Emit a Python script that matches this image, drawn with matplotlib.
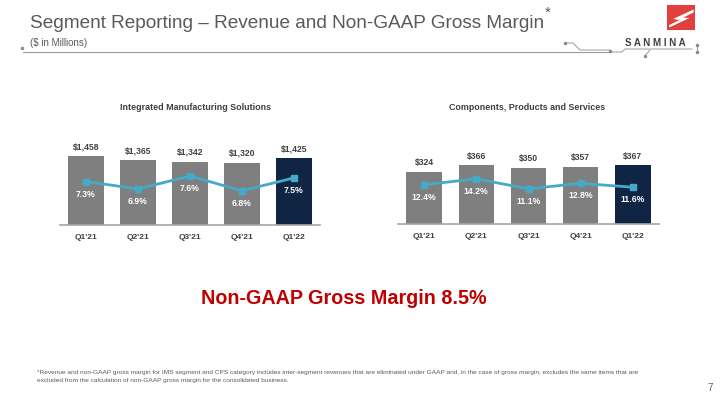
import matplotlib
matplotlib.use('Agg')
import matplotlib.pyplot as plt
from matplotlib.patches import Rectangle, Polygon
from matplotlib.lines import Line2D

plt.rcParams['font.family'] = ['Liberation Sans', 'DejaVu Sans']

quarters = ["Q1'21", "Q2'21", "Q3'21", "Q4'21", "Q1'22"]
ims_revenue = [1458, 1365, 1342, 1320, 1425]
ims_margin = [7.3, 6.9, 7.6, 6.8, 7.5]
cps_revenue = [324, 366, 350, 357, 367]
cps_margin = [12.4, 14.2, 11.1, 12.8, 11.6]

W, H = 720, 405
GRAY = '#7f7f7f'
NAVY = '#102543'
TEAL = '#45a9c8'
TXT = '#404040'

fig = plt.figure(figsize=(7.2, 4.05), dpi=100)
fig.patch.set_facecolor('white')


def px(x0, y_top, w, h):
    # pixel box (from top-left) -> figure fraction
    return [x0 / W, 1 - (y_top + h) / H, w / W, h / H]


def segment(rect, revenue, margin, rev_top, m_lim):
    ax = fig.add_axes(rect)
    xs = range(len(quarters))
    colors = [GRAY] * (len(quarters) - 1) + [NAVY]
    ax.bar(xs, revenue, width=0.68, color=colors, zorder=2)
    ax.set_xlim(-0.5, len(quarters) - 0.5)
    ax.set_ylim(0, rev_top)
    for s in ['top', 'right', 'left']:
        ax.spines[s].set_visible(False)
    ax.spines['bottom'].set_color('#a6a6a6')
    ax.spines['bottom'].set_linewidth(1.2)
    ax.set_yticks([])
    ax.set_xticks(list(xs))
    ax.set_xticklabels(quarters, fontsize=6, fontweight='bold', color=TXT)
    ax.tick_params(axis='x', length=0, pad=6.3)
    for x, v in zip(xs, revenue):
        ax.annotate('${:,}'.format(v), (x, v), xytext=(0, 3.3), textcoords='offset points',
                    ha='center', va='bottom', fontsize=6.2, fontweight='bold', color=TXT)

    ax2 = ax.twinx()
    ax2.set_ylim(*m_lim)
    ax2.axis('off')
    ax2.plot(xs, margin, color=TEAL, lw=2, marker='s', ms=5, zorder=3)
    for x, v in zip(xs, margin):
        ax2.annotate('{:.1f}%'.format(v), (x, v), xytext=(0, -9), textcoords='offset points',
                     ha='center', va='center', fontsize=6.2, fontweight='bold', color='white')
    return ax


segment(px(60, 130.4, 260, 94.6), ims_revenue, ims_margin, 2000, (4.94, 10.08))
segment(px(398, 128, 261, 96), cps_revenue, cps_margin, 598, (0.1, 30.1))
fig.text(195 / W, 1 - 107 / H, 'Integrated Manufacturing Solutions', fontsize=6.4,
         fontweight='bold', color=TXT, ha='center', va='center')
fig.text(527 / W, 1 - 108 / H, 'Components, Products and Services', fontsize=6.4,
         fontweight='bold', color=TXT, ha='center', va='center')

# header
title = fig.text(30 / W, 1 - 28 / H, 'Segment Reporting \u2013 Revenue and Non-GAAP Gross Margin',
                 fontsize=13.7, color='#595959', va='baseline', ha='left')
fig.canvas.draw()
tx1 = title.get_window_extent().x1
fig.text((tx1 + 1) / W, 1 - 17 / H, '*', fontsize=11, color='#595959', va='baseline', ha='left')
fig.text(30 / W, 1 - 43 / H, '($ in Millions)', fontsize=7, color='#595959', va='center', ha='left')

deco = fig.add_axes([0, 0, 1, 1])
deco.set_xlim(0, W)
deco.set_ylim(H, 0)
deco.axis('off')
deco.add_line(Line2D([23, 610], [52, 52], color='#9a9a9a', lw=0.8))
deco.add_line(Line2D([565, 573, 580, 610], [43, 43, 50, 50], color='#9a9a9a', lw=0.7))
deco.add_line(Line2D([610, 622, 625, 692], [52, 52, 49, 49], color='#9a9a9a', lw=0.7))
deco.add_line(Line2D([650, 645], [50, 56], color='#9a9a9a', lw=0.7))
deco.add_line(Line2D([697, 697], [45, 52], color='#9a9a9a', lw=0.7))
for (x, y) in [(22, 48), (565, 43), (610, 51), (645, 56), (697, 45), (697, 52)]:
    deco.plot(x, y, marker='o', ms=1.5, color='#8a8a8a')
lx, ly, ls = 667, 5, 28
deco.add_patch(Rectangle((lx, ly), ls, 25, color='#e2403f', lw=0))
shape = [(0.22, 0.56), (0.95, 0.18), (0.95, 0.30), (0.58, 0.50), (0.80, 0.52),
         (0.08, 0.90), (0.08, 0.80), (0.45, 0.60)]
deco.add_patch(Polygon([(lx + ls * a, ly + 25 * b) for a, b in shape], closed=True,
                       color='white', lw=0))
fig.text(655 / W, 1 - 43 / H, 'S A N M I N A', fontsize=7, color='#404040',
         ha='center', va='center', fontweight='bold')

fig.text(344 / W, 1 - 299 / H, 'Non-GAAP Gross Margin 8.5%', fontsize=14.2, fontweight='bold',
         color='#c00000', ha='center', va='center')

fig.text(37 / W, 1 - 370 / H,
         '*Revenue and non-GAAP gross margin for IMS segment and CPS category includes inter-segment '
         'revenues that are eliminated under GAAP and, in the case of gross margin, excludes the same items that are\n'
         'excluded from the calculation of non-GAAP gross margin for the consolidated business.',
         fontsize=4.65, color='#595959', ha='left', va='top', linespacing=1.75)
fig.text(710 / W, 1 - 388 / H, '7', fontsize=7, color='#595959', ha='center', va='center')

fig.savefig('out.png', dpi=100)
